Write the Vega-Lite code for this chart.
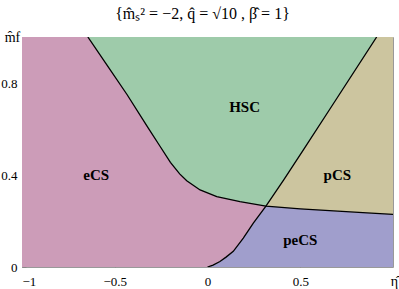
{
  "$schema": "https://vega.github.io/schema/vega-lite/v6.json",
  "width": 371,
  "height": 230,
  "autosize": {"type": "none"},
  "padding": {"left": 22, "top": 37, "right": 6, "bottom": 22},
  "background": "white",
  "view": {"stroke": "#999999", "strokeWidth": 1},
  "title": {
    "text": "{m̂ₛ² = −2, q̂ = √10 , β̂ = 1}",
    "font": "Liberation Serif",
    "fontSize": 16,
    "fontWeight": "normal",
    "color": "black",
    "offset": -5,
    "baseline": "alphabetic",
    "dx": -5
  },
  "config": {
    "axisX": {
      "domain": false, "grid": false, "tickSize": -4, "tickColor": "#888888",
      "labelPadding": 12, "labelFont": "Liberation Serif", "labelFontSize": 13, "labelColor": "black",
      "titleX": 372, "titleY": 18, "titleBaseline": "alphabetic", "titleAlign": "center",
      "titleFont": "Liberation Serif", "titleFontSize": 14, "titleFontWeight": "normal", "titleColor": "black"
    },
    "axisY": {
      "domain": false, "grid": false, "tickSize": -4, "tickColor": "#888888",
      "labelPadding": 9, "labelFont": "Liberation Serif", "labelFontSize": 13, "labelColor": "black",
      "titleAngle": 0, "titleX": -10, "titleY": 4, "titleBaseline": "alphabetic", "titleAlign": "center",
      "titleFont": "Liberation Serif", "titleFontSize": 14, "titleFontWeight": "normal", "titleColor": "black"
    }
  },
  "datasets": {
    "eCS": [
      {"x": -1, "lo": 0, "hi": 1},
      {"x": 1, "lo": 0, "hi": 1}
    ],
    "pCS": [
      {"x": 0, "lo": 0, "hi": 0},
      {"x": 0.03, "lo": 0, "hi": 0.008},
      {"x": 0.067, "lo": 0, "hi": 0.024},
      {"x": 0.1, "lo": 0, "hi": 0.043},
      {"x": 0.139, "lo": 0, "hi": 0.068},
      {"x": 0.193, "lo": 0, "hi": 0.126},
      {"x": 0.247, "lo": 0, "hi": 0.191},
      {"x": 0.315, "lo": 0, "hi": 0.265},
      {"x": 0.41, "lo": 0, "hi": 0.378},
      {"x": 0.516, "lo": 0, "hi": 0.508},
      {"x": 0.66, "lo": 0, "hi": 0.687},
      {"x": 0.912, "lo": 0, "hi": 1.0},
      {"x": 1.0, "lo": 0, "hi": 1.0}
    ],
    "HSC": [
      {"x": -0.645, "lo": 1.0, "hi": 1},
      {"x": -0.55, "lo": 0.888, "hi": 1},
      {"x": -0.434, "lo": 0.75, "hi": 1},
      {"x": -0.32, "lo": 0.605, "hi": 1},
      {"x": -0.256, "lo": 0.525, "hi": 1},
      {"x": -0.2, "lo": 0.455, "hi": 1},
      {"x": -0.15, "lo": 0.405, "hi": 1},
      {"x": -0.112, "lo": 0.375, "hi": 1},
      {"x": -0.04, "lo": 0.335, "hi": 1},
      {"x": 0.05, "lo": 0.306, "hi": 1},
      {"x": 0.175, "lo": 0.284, "hi": 1},
      {"x": 0.315, "lo": 0.265, "hi": 1},
      {"x": 0.41, "lo": 0.378, "hi": 1},
      {"x": 0.516, "lo": 0.508, "hi": 1},
      {"x": 0.66, "lo": 0.687, "hi": 1},
      {"x": 0.912, "lo": 1.0, "hi": 1}
    ],
    "peCS": [
      {"x": 0, "lo": 0, "hi": 0},
      {"x": 0.03, "lo": 0, "hi": 0.008},
      {"x": 0.067, "lo": 0, "hi": 0.024},
      {"x": 0.1, "lo": 0, "hi": 0.043},
      {"x": 0.139, "lo": 0, "hi": 0.068},
      {"x": 0.193, "lo": 0, "hi": 0.126},
      {"x": 0.247, "lo": 0, "hi": 0.191},
      {"x": 0.315, "lo": 0, "hi": 0.265},
      {"x": 0.5, "lo": 0, "hi": 0.253},
      {"x": 0.68, "lo": 0, "hi": 0.244},
      {"x": 0.86, "lo": 0, "hi": 0.235},
      {"x": 1.0, "lo": 0, "hi": 0.229}
    ],
    "curves": [
      {"curve": "A", "x": -0.645, "lo": 1.0},
      {"curve": "A", "x": -0.55, "lo": 0.888},
      {"curve": "A", "x": -0.434, "lo": 0.75},
      {"curve": "A", "x": -0.32, "lo": 0.605},
      {"curve": "A", "x": -0.256, "lo": 0.525},
      {"curve": "A", "x": -0.2, "lo": 0.455},
      {"curve": "A", "x": -0.15, "lo": 0.405},
      {"curve": "A", "x": -0.112, "lo": 0.375},
      {"curve": "A", "x": -0.04, "lo": 0.335},
      {"curve": "A", "x": 0.05, "lo": 0.306},
      {"curve": "A", "x": 0.175, "lo": 0.284},
      {"curve": "A", "x": 0.315, "lo": 0.265},
      {"curve": "A", "x": 0.5, "lo": 0.253},
      {"curve": "A", "x": 0.68, "lo": 0.244},
      {"curve": "A", "x": 0.86, "lo": 0.235},
      {"curve": "A", "x": 1.0, "lo": 0.229},
      {"curve": "B", "x": 0, "lo": 0},
      {"curve": "B", "x": 0.03, "lo": 0.008},
      {"curve": "B", "x": 0.067, "lo": 0.024},
      {"curve": "B", "x": 0.1, "lo": 0.043},
      {"curve": "B", "x": 0.139, "lo": 0.068},
      {"curve": "B", "x": 0.193, "lo": 0.126},
      {"curve": "B", "x": 0.247, "lo": 0.191},
      {"curve": "B", "x": 0.315, "lo": 0.265},
      {"curve": "B", "x": 0.41, "lo": 0.378},
      {"curve": "B", "x": 0.516, "lo": 0.508},
      {"curve": "B", "x": 0.66, "lo": 0.687},
      {"curve": "B", "x": 0.912, "lo": 1.0}
    ],
    "labels": [
      {"label": "eCS", "x": -0.6, "lo": 0.4},
      {"label": "HSC", "x": 0.2, "lo": 0.695},
      {"label": "pCS", "x": 0.7, "lo": 0.4},
      {"label": "peCS", "x": 0.5, "lo": 0.118}
    ]
  },
  "encoding": {
    "x": {
      "field": "x", "type": "quantitative", "title": "η̂",
      "scale": {"domain": [-1, 1], "nice": false, "zero": false},
      "axis": {"values": [-1, -0.5, 0, 0.5], "format": "~g", "labelFont": "Liberation Serif", "titleFont": "Liberation Serif"}
    },
    "y": {
      "field": "lo", "type": "quantitative", "title": "m̂f",
      "scale": {"domain": [0, 1], "nice": false, "zero": false},
      "axis": {"values": [0, 0.4, 0.8], "format": "~g", "labelFont": "Liberation Serif", "titleFont": "Liberation Serif"}
    }
  },
  "layer": [
    {
      "data": {"name": "eCS"},
      "mark": {"type": "area", "color": "#CC9CB8", "clip": true},
      "encoding": {"y2": {"field": "hi"}}
    },
    {
      "data": {"name": "pCS"},
      "mark": {"type": "area", "color": "#CCC59F", "clip": true},
      "encoding": {"y2": {"field": "hi"}}
    },
    {
      "data": {"name": "HSC"},
      "mark": {"type": "area", "color": "#9ECBAA", "clip": true},
      "encoding": {"y2": {"field": "hi"}}
    },
    {
      "data": {"name": "peCS"},
      "mark": {"type": "area", "color": "#A09ECC", "clip": true},
      "encoding": {"y2": {"field": "hi"}}
    },
    {
      "data": {"name": "curves"},
      "mark": {"type": "line", "color": "black", "strokeWidth": 1.3, "clip": true},
      "encoding": {"detail": {"field": "curve"}}
    },
    {
      "data": {"name": "labels"},
      "mark": {"type": "text", "font": "Liberation Serif", "fontWeight": "bold", "fontSize": 15, "align": "center", "baseline": "middle", "color": "black"},
      "encoding": {"text": {"field": "label"}}
    }
  ]
}
